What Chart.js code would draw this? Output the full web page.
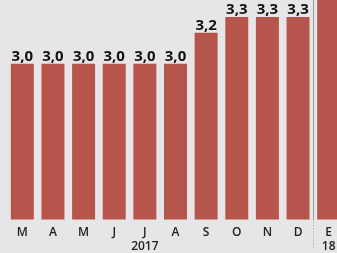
<!DOCTYPE html>
<html>
<head>
<meta charset="utf-8">
<script src="https://cdn.jsdelivr.net/npm/chart.js@4/dist/chart.umd.min.js"></script>
<style>
    html, body { margin: 0; padding: 0; background: #e7e5e7; overflow: hidden; }
    #wrap { width: 337px; height: 253px; overflow: hidden; position: relative; }
    #box { width: 344px; height: 259px; position: absolute; left: 0; top: 0; }
</style>
</head>
<body>
<div id="wrap"><div id="box"><canvas id="barChart"></canvas></div></div>
<script>
// Months (2017 -> Jan 2018), second line holds the year
const monthLabels = ['M', 'A', 'M', 'J', ['J', '2017'], 'A', 'S', 'O', 'N', 'D', ['E', '18']];
const values = [3.0, 3.0, 3.0, 3.0, 3.0, 3.0, 3.2, 3.3, 3.3, 3.3, 3.5];

let barColor = '#b5554b';

// Draw the value on top of each bar, with a comma as decimal sign
const valueLabels = {
    id: 'valueLabels',
    afterDatasetsDraw(chart) {
        const ctx = chart.ctx;
        const meta = chart.getDatasetMeta(0);
        ctx.save();
        ctx.font = 'bold 15px "Open Sans"';
        ctx.fillStyle = '#111111';
        ctx.textAlign = 'center';
        ctx.textBaseline = 'alphabetic';
        meta.data.forEach((bar, i) => {
            const text = values[i].toFixed(1).replace('.', ',');
            ctx.fillText(text, bar.x, bar.y - 3);
        });
        ctx.restore();
    }
};

// Separator line between 2017 and 2018
const yearSeparator = {
    id: 'yearSeparator',
    afterDraw(chart) {
        const ctx = chart.ctx;
        const xScale = chart.scales.x;
        const x = Math.round((xScale.getPixelForValue(9) + xScale.getPixelForValue(10)) / 2) + 0.5;
        ctx.save();
        ctx.strokeStyle = '#9a9a9a';
        ctx.lineWidth = 1;
        ctx.beginPath();
        ctx.moveTo(x, 0);
        ctx.lineTo(x, chart.chartArea.bottom);
        ctx.stroke();
        ctx.setLineDash([1, 2]);
        ctx.beginPath();
        ctx.moveTo(x, chart.chartArea.bottom);
        ctx.lineTo(x, 249);
        ctx.stroke();
        ctx.restore();
    }
};

const ctx = document.getElementById('barChart').getContext('2d');
const barChart = new Chart(ctx, {
    type: 'bar',
    data: {
        labels: monthLabels,
        datasets: [
            {
                data: values,
                backgroundColor: barColor,
                borderWidth: 0,
                categoryPercentage: 1.0,
                barPercentage: 0.75,
            },
        ],
    },
    options: {
        responsive: true,
        maintainAspectRatio: false,
        animation: false,
        layout: { padding: { left: 7, right: 0, top: 0, bottom: 0 } },
        plugins: {
            legend: { display: false },
            tooltip: { enabled: false },
        },
        scales: {
            x: {
                grid: { display: false, drawTicks: false },
                border: { display: false },
                ticks: {
                    color: '#222222',
                    padding: 6,
                    maxRotation: 0,
                    autoSkip: false,
                    font: { family: 'Open Sans', size: 12, weight: '600', lineHeight: 1.15 },
                },
            },
            y: {
                display: false,
                min: 2.0,
                max: 3.41,
            },
        },
    },
    plugins: [valueLabels, yearSeparator],
});
</script>
</body>
</html>
